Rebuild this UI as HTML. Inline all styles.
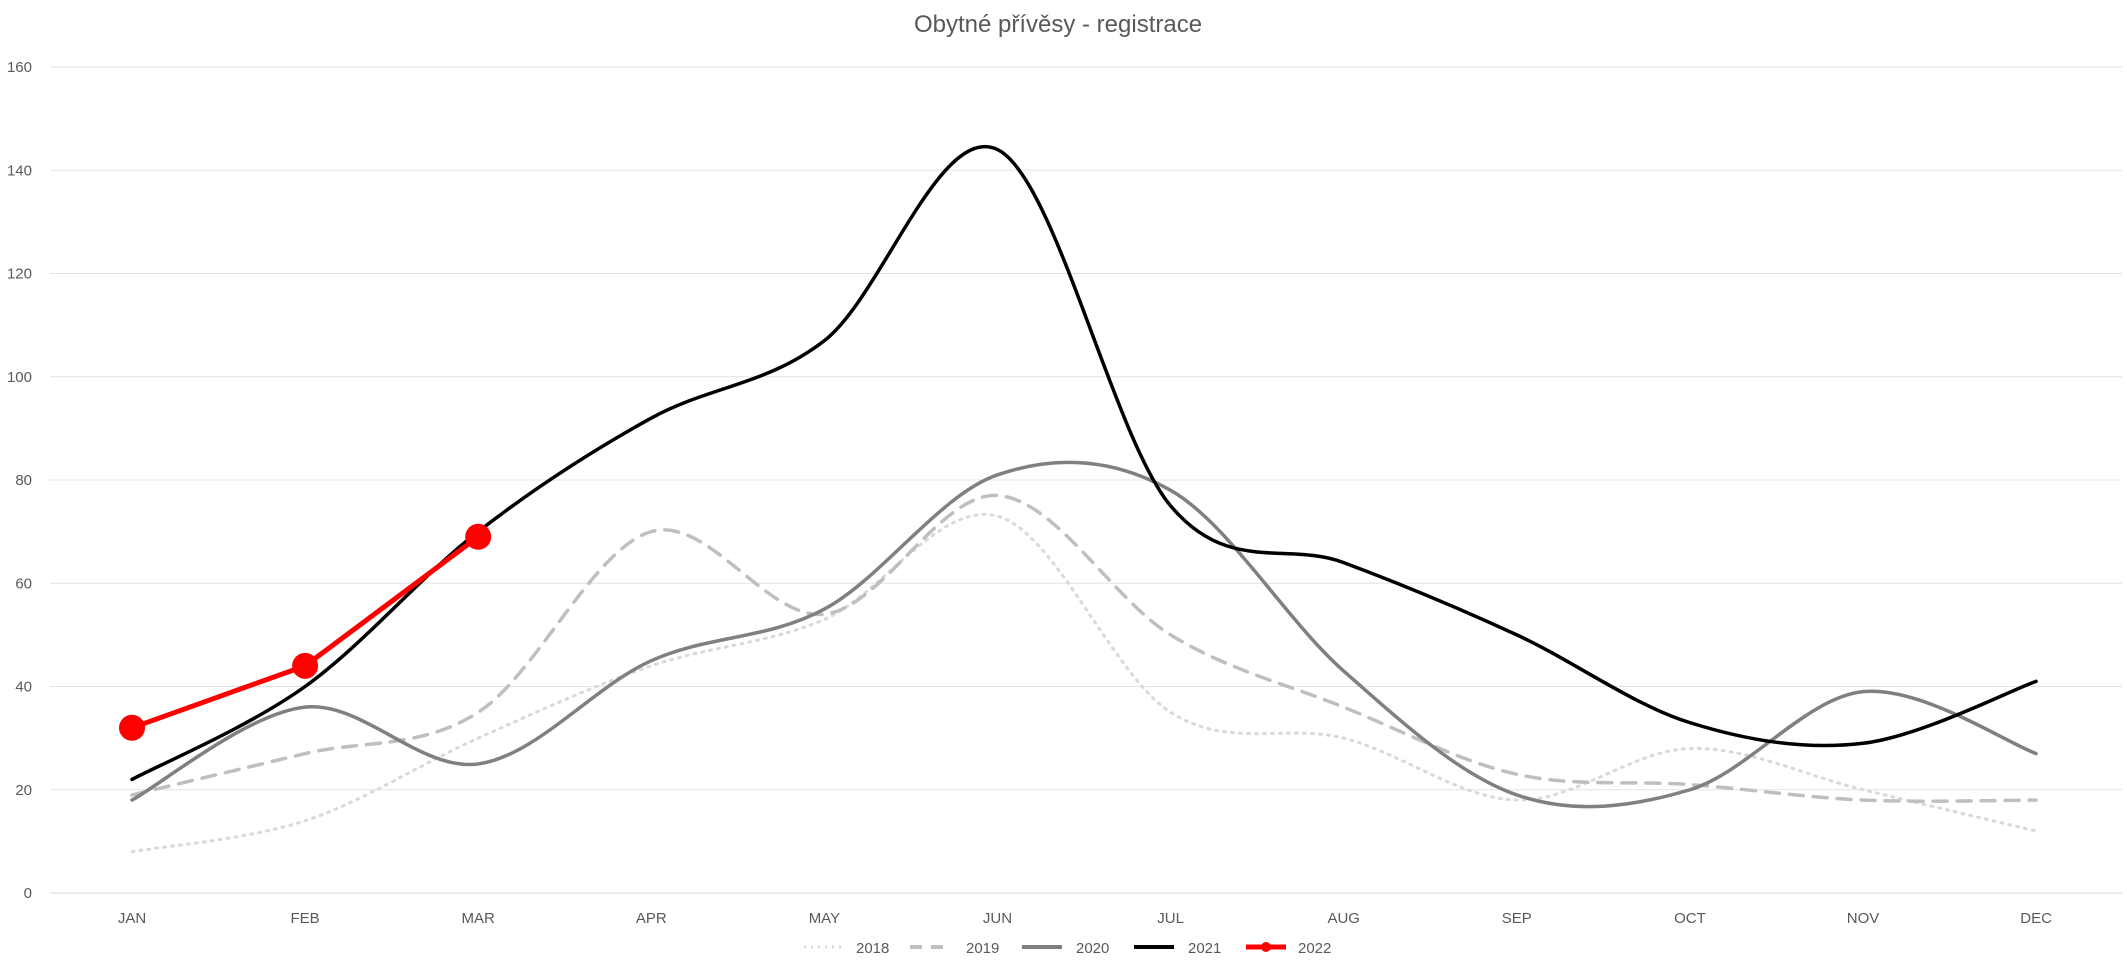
<!DOCTYPE html>
<html><head><meta charset="utf-8"><style>
html,body{margin:0;padding:0;background:#fff;}
svg{display:block;font-family:"Liberation Sans",sans-serif;}
</style></head><body>
<svg id="c" width="2127" height="973" viewBox="0 0 2127 973" xmlns="http://www.w3.org/2000/svg">
<text x="1058" y="32" text-anchor="middle" font-size="24" fill="#595959">Obytné přívěsy - registrace</text>
<g id="grid"></g>
<g id="series"></g>
<g font-size="15" fill="#595959">
<line x1="804" y1="947" x2="843" y2="947" stroke="#d9d9d9" stroke-width="3" stroke-dasharray="2,5"/>
<text x="856" y="953">2018</text>
<line x1="910" y1="947" x2="950" y2="947" stroke="#bfbfbf" stroke-width="4" stroke-dasharray="12,9"/>
<text x="966" y="953">2019</text>
<line x1="1022" y1="947" x2="1062" y2="947" stroke="#808080" stroke-width="4"/>
<text x="1076" y="953">2020</text>
<line x1="1134" y1="947" x2="1174" y2="947" stroke="#000" stroke-width="4"/>
<text x="1188" y="953">2021</text>
<line x1="1246" y1="947" x2="1286" y2="947" stroke="#f00" stroke-width="5"/>
<circle cx="1266" cy="947" r="5" fill="#f00"/>
<text x="1298" y="953">2022</text>
</g>
</svg>
<script>
var NS="http://www.w3.org/2000/svg";
var x0=132,dx=173.1,y0=893,py=(893-67)/160;
function X(i){return x0+i*dx}function Y(v){return y0-v*py}
var g=document.getElementById('grid'),s=document.getElementById('series');
function el(p,t,a){var e=document.createElementNS(NS,t);for(var k in a)e.setAttribute(k,a[k]);p.appendChild(e);return e}
for(var v=0;v<=160;v+=20){el(g,'line',{x1:50,x2:2122,y1:Y(v),y2:Y(v),stroke:v==0?'#d9d9d9':'#e3e3e3','stroke-width':1});
var t=el(g,'text',{x:32,y:Y(v)+5,'text-anchor':'end','font-size':15,fill:'#595959'});t.textContent=v;}
var m=['JAN','FEB','MAR','APR','MAY','JUN','JUL','AUG','SEP','OCT','NOV','DEC'];
m.forEach(function(n,i){var t=el(g,'text',{x:X(i),y:923,'text-anchor':'middle','font-size':15,fill:'#595959'});t.textContent=n;});
function path(d){var p=d.map(function(v,i){return [X(i),Y(v)]});var s='M'+p[0][0]+','+p[0][1];
for(var i=0;i<p.length-1;i++){var a=p[Math.max(i-1,0)],b=p[i],c=p[i+1],e=p[Math.min(i+2,p.length-1)];
var k=1/6;s+=' C'+(b[0]+(c[0]-a[0])*k)+','+(b[1]+(c[1]-a[1])*k)+' '+(c[0]-(e[0]-b[0])*k)+','+(c[1]-(e[1]-b[1])*k)+' '+c[0]+','+c[1];}return s}
var D=[
[[8,14,30,44,53,73,35,30,18,28,20,12],'#d9d9d9',3,'2,6'],
[[19,27,35,70,54,77,50,36,23,21,18,18],'#bfbfbf',3.5,'14,10'],
[[18,36,25,45,55,81,78,43,19,20,39,27],'#808080',3.5,''],
[[22,40,70,92,107,144,75,64,50,33,29,41],'#000',3.5,'']];
D.forEach(function(d){var a={d:path(d[0]),fill:'none',stroke:d[1],'stroke-width':d[2],'stroke-linecap':'round'};if(d[3])a['stroke-dasharray']=d[3];el(s,'path',a)});
var r=[32,44,69];el(s,'polyline',{points:r.map(function(v,i){return X(i)+','+Y(v)}).join(' '),fill:'none',stroke:'#f00','stroke-width':5});
r.forEach(function(v,i){el(s,'circle',{cx:X(i),cy:Y(v),r:13,fill:'#f00'})});
</script>
</body></html>
